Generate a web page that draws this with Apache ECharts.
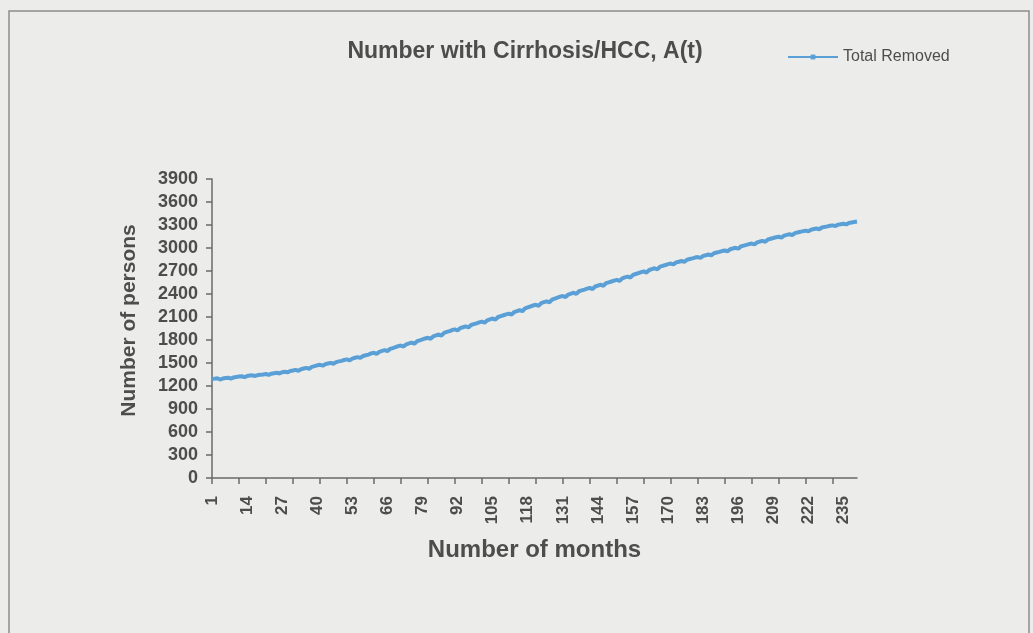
<!DOCTYPE html>
<html>
<head>
<meta charset="utf-8">
<script src="https://cdn.jsdelivr.net/npm/echarts@6/dist/echarts.min.js"></script>
<style>
  html, body { margin: 0; padding: 0; background: #ecedea; }
  #chart { width: 1033px; height: 633px; }
</style>
</head>
<body>
<div id="chart"></div>
<script>
// ---- data ----
const chartTitle = 'Number with Cirrhosis/HCC, A(t)';
const seriesName = 'Total Removed';
const xTitle = 'Number of months';
const yTitle = 'Number of persons';
const yTicks = [0, 300, 600, 900, 1200, 1500, 1800, 2100, 2400, 2700, 3000, 3300, 3600, 3900];

const months = [];
for (let m = 1; m <= 240; m++) months.push(String(m));

const totalRemoved = [
  1290, 1296, 1301, 1284, 1298, 1305, 1309, 1297, 1312, 1318,
  1323, 1327, 1316, 1330, 1336, 1339, 1331, 1343, 1347, 1350,
  1356, 1346, 1361, 1367, 1372, 1364, 1380, 1386, 1378, 1395,
  1402, 1410, 1398, 1419, 1428, 1436, 1425, 1450, 1459, 1470,
  1476, 1465, 1485, 1494, 1502, 1490, 1512, 1521, 1528, 1540,
  1547, 1535, 1558, 1568, 1577, 1566, 1592, 1601, 1610, 1625,
  1633, 1620, 1646, 1657, 1668, 1655, 1684, 1695, 1706, 1720,
  1728, 1714, 1744, 1755, 1766, 1752, 1784, 1796, 1807, 1820,
  1829, 1815, 1848, 1860, 1872, 1857, 1893, 1905, 1916, 1930,
  1938, 1924, 1955, 1966, 1977, 1963, 1996, 2007, 2018, 2030,
  2039, 2025, 2057, 2069, 2080, 2066, 2100, 2112, 2123, 2135,
  2145, 2130, 2165, 2178, 2190, 2175, 2212, 2225, 2237, 2250,
  2260, 2245, 2281, 2293, 2305, 2290, 2327, 2340, 2352, 2365,
  2374, 2360, 2393, 2405, 2416, 2402, 2436, 2447, 2458, 2470,
  2479, 2465, 2498, 2510, 2521, 2507, 2541, 2552, 2563, 2575,
  2584, 2570, 2604, 2616, 2628, 2613, 2649, 2661, 2673, 2685,
  2694, 2680, 2713, 2725, 2736, 2722, 2756, 2767, 2778, 2790,
  2797, 2786, 2812, 2821, 2830, 2819, 2847, 2856, 2865, 2875,
  2882, 2871, 2897, 2906, 2915, 2904, 2932, 2941, 2950, 2960,
  2968, 2956, 2984, 2994, 3003, 2991, 3021, 3031, 3040, 3050,
  3058, 3046, 3074, 3084, 3093, 3081, 3111, 3121, 3130, 3140,
  3147, 3136, 3162, 3171, 3179, 3168, 3194, 3203, 3211, 3220,
  3226, 3216, 3239, 3247, 3254, 3244, 3267, 3275, 3282, 3290,
  3295, 3286, 3305, 3311, 3317, 3308, 3327, 3333, 3339, 3345
];

// ---- chart ----
const textColor = '#4d4d4d';
const lineColor = '#5a9fd6';
const fontFam = '"Liberation Sans", Arial, sans-serif';

const chart = echarts.init(document.getElementById('chart'), null, { renderer: 'canvas' });
chart.setOption({
  backgroundColor: '#ecedea',
  animation: false,
  title: {
    text: chartTitle,
    left: 520,
    top: 35,
    textAlign: 'center',
    textStyle: { fontFamily: fontFam, fontWeight: 'bold', fontSize: 23, color: textColor }
  },
  legend: {
    data: [seriesName],
    left: 782,
    top: 44,
    itemWidth: 50,
    itemHeight: 6,
    itemGap: 6,
    textStyle: { fontFamily: fontFam, fontSize: 16, color: textColor }
  },
  grid: { left: 212, top: 179, right: 176, bottom: 155, containLabel: false },
  xAxis: {
    type: 'category',
    data: months,
    boundaryGap: false,
    name: xTitle,
    nameLocation: 'middle',
    nameGap: 60,
    nameTextStyle: { fontFamily: fontFam, fontWeight: 'bold', fontSize: 24, color: textColor },
    axisLine: { lineStyle: { color: '#6a6a6a', width: 1.5 } },
    axisTick: { show: true, interval: 9, length: 6, lineStyle: { color: '#6a6a6a', width: 1.5 } },
    axisLabel: {
      interval: 12, rotate: 90, margin: 18,
      fontFamily: fontFam, fontWeight: 'bold', fontSize: 17, color: textColor
    },
    splitLine: { show: false }
  },
  yAxis: {
    type: 'value',
    min: yTicks[0],
    max: yTicks[yTicks.length - 1],
    interval: yTicks[1] - yTicks[0],
    name: yTitle,
    nameLocation: 'middle',
    nameGap: 72,
    nameTextStyle: { fontFamily: fontFam, fontWeight: 'bold', fontSize: 21, color: textColor, padding: [0, 0, 0, 16] },
    axisLine: { show: true, lineStyle: { color: '#6a6a6a', width: 1.5 } },
    axisTick: { show: true, length: 6, lineStyle: { color: '#6a6a6a', width: 1.5 } },
    axisLabel: {
      margin: 14, fontFamily: fontFam, fontWeight: 'bold', fontSize: 18, color: textColor,
      formatter: function (v) { return String(v); }
    },
    splitLine: { show: false }
  },
  series: [{
    name: seriesName,
    type: 'line',
    data: totalRemoved,
    showSymbol: false,
    symbol: 'rect',
    symbolSize: 6,
    lineStyle: { color: lineColor, width: 4 },
    itemStyle: { color: lineColor }
  }],
  graphic: [{
    type: 'rect',
    shape: { x: 9, y: 11, width: 1020, height: 640 },
    style: { fill: null, stroke: '#8c8c8c', lineWidth: 1.5 },
    silent: true
  }]
});
</script>
</body>
</html>
